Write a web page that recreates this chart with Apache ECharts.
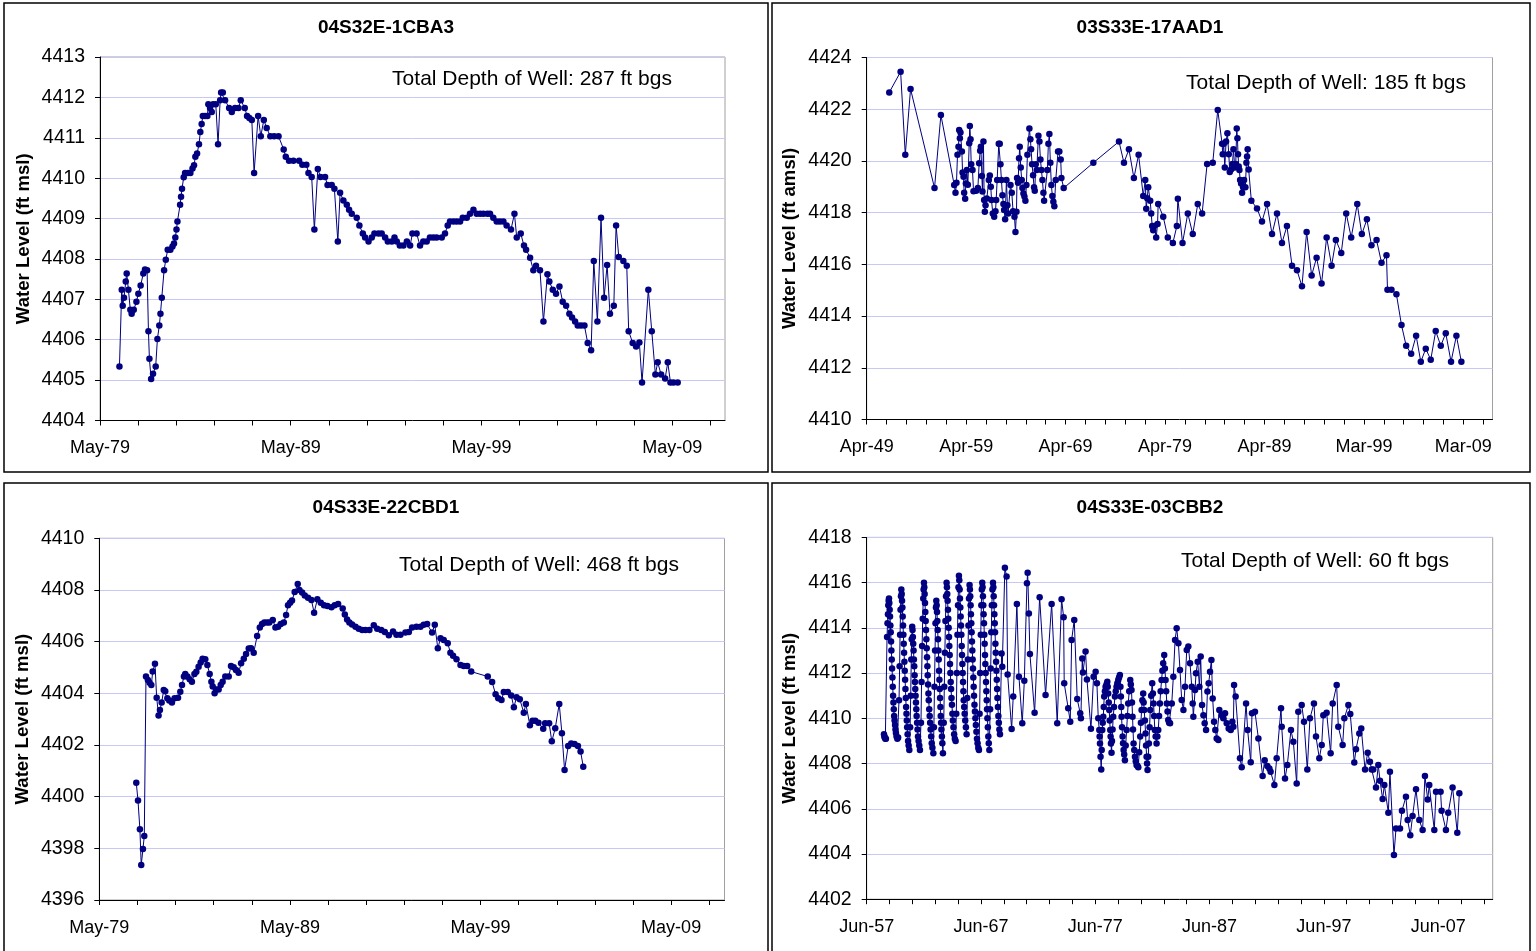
<!DOCTYPE html>
<html><head><meta charset="utf-8">
<script src="https://cdn.jsdelivr.net/npm/echarts@6/dist/echarts.min.js"></script>
<style>html,body{margin:0;padding:0;background:#fff}#c{width:1536px;height:951px}</style>
</head><body><div id="c"></div>
<script>
// ---------- DATA ----------
const wellIds = ['04S32E-1CBA3', '03S33E-17AAD1', '04S33E-22CBD1', '04S33E-03CBB2'];
const wellNotes = ['Total Depth of Well: 287 ft bgs', 'Total Depth of Well: 185 ft bgs', 'Total Depth of Well: 468 ft bgs', 'Total Depth of Well: 60 ft bgs'];
const yNames = ['Water Level (ft msl)', 'Water Level (ft amsl)', 'Water Level (ft msl)', 'Water Level (ft msl)'];

const p1XLabels = ['May-79', 'May-89', 'May-99', 'May-09'];
const p2XLabels = ['Apr-49', 'Apr-59', 'Apr-69', 'Apr-79', 'Apr-89', 'Mar-99', 'Mar-09'];
const p3XLabels = ['May-79', 'May-89', 'May-99', 'May-09'];
const p4XLabels = ['Jun-57', 'Jun-67', 'Jun-77', 'Jun-87', 'Jun-97', 'Jun-07'];

const p1YTicks = [4404, 4413, 1];
const p2YTicks = [4410, 4424, 2];
const p3YTicks = [4396, 4410, 2];
const p4YTicks = [4402, 4418, 2];

// decimal years
const p1Dates = [1980.39,1980.51,1980.56,1980.63,1980.72,1980.77,1980.86,1980.96,1981.03,1981.14,1981.28,1981.38,1981.5,1981.64,1981.73,1981.84,1981.91,1981.96,1982.05,1982.15,1982.29,1982.38,1982.48,1982.54,1982.61,1982.73,1982.82,1982.92,1983.06,1983.17,1983.25,1983.32,1983.38,1983.43,1983.57,1983.62,1983.67,1983.76,1983.83,1983.97,1984.11,1984.22,1984.3,1984.37,1984.46,1984.56,1984.63,1984.7,1984.76,1984.88,1985.0,1985.05,1985.14,1985.23,1985.3,1985.44,1985.56,1985.67,1985.72,1985.81,1985.93,1986.14,1986.28,1986.45,1986.63,1986.75,1986.96,1987.08,1987.2,1987.33,1987.45,1987.66,1987.8,1987.96,1988.11,1988.3,1988.5,1988.73,1989.0,1989.11,1989.28,1989.51,1989.81,1989.98,1990.19,1990.3,1990.47,1990.61,1990.79,1990.93,1991.17,1991.3,1991.52,1991.66,1991.84,1991.96,1992.13,1992.31,1992.43,1992.57,1992.83,1992.97,1993.15,1993.27,1993.45,1993.62,1993.76,1993.97,1994.14,1994.32,1994.46,1994.67,1994.81,1994.93,1995.09,1995.28,1995.46,1995.63,1995.75,
1995.97,1996.15,1996.32,1996.5,1996.67,1996.85,1997.02,1997.29,1997.46,1997.6,1997.72,1997.9,1998.07,1998.25,1998.39,1998.6,1998.77,1998.95,1999.12,1999.3,1999.47,1999.68,1999.82,1999.99,2000.17,2000.34,2000.52,2000.69,2000.92,2001.1,2001.22,2001.43,2001.6,2001.71,2001.92,2002.09,2002.23,2002.44,2002.62,2002.83,2002.93,2003.11,2003.28,2003.46,2003.63,2003.81,2003.98,2004.12,2004.28,2004.42,2004.59,2004.77,2004.94,2005.12,2005.26,2005.45,2005.64,2005.8,2005.96,2006.11,2006.31,2006.43,2006.57,2006.81,2006.99,2007.09,2007.3,2007.48,2007.65,2007.79,2008.12,2008.3,2008.49,2008.61,2008.79,2009.0,2009.14,2009.28,2009.44,2009.66];
const p1Levels = [4405.34,4407.24,4406.84,4407.04,4407.44,4407.64,4407.24,4406.74,4406.64,4406.74,4406.94,4407.14,4407.34,4407.64,4407.74,4407.72,4406.21,4405.53,4405.03,4405.16,4405.34,4406.02,4406.35,4406.64,4407.04,4407.72,4407.98,4408.23,4408.23,4408.31,4408.38,4408.53,4408.73,4408.93,4409.34,4409.54,4409.74,4410.02,4410.13,4410.13,4410.13,4410.24,4410.32,4410.53,4410.61,4410.84,4411.14,4411.34,4411.54,4411.54,4411.54,4411.83,4411.74,4411.64,4411.83,4411.83,4410.84,4411.93,4412.12,4412.12,4411.93,4411.74,4411.64,4411.74,4411.74,4411.93,4411.74,4411.54,4411.49,4411.44,4410.13,4411.54,4411.04,4411.44,4411.24,4411.04,4411.04,4411.04,4410.71,4410.53,4410.43,4410.43,4410.43,4410.33,4410.33,4410.13,4410.03,4408.73,4410.23,4410.03,4410.03,4409.83,4409.83,4409.74,4408.43,4409.64,4409.45,4409.34,4409.22,4409.12,4409.02,4408.83,4408.63,4408.53,4408.43,4408.53,4408.63,4408.63,4408.63,4408.53,4408.43,4408.43,4408.53,4408.43,4408.33,4408.33,4408.43,4408.33,4408.63,
4408.63,4408.33,4408.43,4408.43,4408.53,4408.53,4408.53,4408.53,4408.63,4408.83,4408.93,4408.93,4408.93,4408.93,4409.02,4409.02,4409.12,4409.22,4409.12,4409.12,4409.12,4409.12,4409.12,4409.02,4408.93,4408.93,4408.93,4408.83,4408.73,4409.12,4408.53,4408.63,4408.33,4408.23,4408.03,4407.72,4407.83,4407.72,4406.45,4407.62,4407.44,4407.24,4407.14,4407.32,4406.94,4406.84,4406.64,4406.55,4406.45,4406.35,4406.35,4406.35,4405.92,4405.74,4407.95,4406.45,4409.02,4407.04,4407.85,4406.64,4406.84,4408.83,4408.05,4407.95,4407.83,4406.21,4405.92,4405.83,4405.93,4404.94,4407.24,4406.21,4405.14,4405.44,4405.14,4405.04,4405.44,4404.94,4404.94,4404.94];

const p2Dates = [1951.52,1952.66,1953.13,1953.66,1956.07,1956.71,1958.05,1958.18,1958.28,1958.38,1958.48,1958.55,1958.62,1958.68,1958.82,1958.89,1958.99,1959.05,1959.15,1959.22,1959.32,1959.42,1959.56,1959.62,1959.69,1959.76,1959.89,1959.99,1960.26,1960.43,1960.56,1960.66,1960.73,1960.83,1960.89,1960.99,1961.06,1961.13,1961.2,1961.33,1961.53,1961.63,1961.73,1961.8,1961.93,1962.07,1962.2,1962.27,1962.37,1962.53,1962.63,1962.7,1962.8,1962.9,1963.0,1963.07,1963.17,1963.3,1963.4,1963.47,1963.71,1963.84,1963.97,1964.11,1964.21,1964.31,1964.37,1964.47,1964.57,1964.64,1964.74,1964.84,1964.91,1965.01,1965.11,1965.21,1965.31,1965.41,1965.61,1965.71,1965.78,1965.88,1965.98,1966.08,1966.15,1966.25,1966.35,1966.52,1966.62,1966.72,1966.82,1966.92,1967.02,1967.09,1967.42,1967.52,1967.62,1967.72,1967.82,1967.92,1968.02,1968.12,1968.26,1968.49,1968.62,1968.76,1968.83,1969.06,1972.04,1974.62,1975.12,1975.62,1976.12,1976.59,1977.06,1977.26,1977.36,1977.46,1977.56,1977.76,1977.86,1977.96,1978.06,1978.16,1978.36,1978.5,1978.56,1979.07,1979.53,1980.04,1980.44,1980.54,1981.01,
1981.54,1982.04,1982.54,1982.98,1983.48,1984.05,1984.55,1984.99,1985.05,1985.15,1985.26,1985.39,1985.52,1985.66,1985.76,1985.89,1986.03,1986.13,1986.26,1986.36,1986.46,1986.53,1986.59,1986.66,1986.73,1986.8,1986.9,1987.0,1987.1,1987.2,1987.33,1987.43,1987.5,1987.56,1987.66,1987.93,1988.5,1989.0,1989.51,1990.01,1990.51,1991.01,1991.51,1992.02,1992.52,1993.02,1993.49,1993.99,1994.49,1994.99,1995.5,1996.0,1996.43,1996.97,1997.47,1997.97,1998.58,1999.04,1999.55,2000.01,2000.52,2001.02,2001.52,2001.62,2002.02,2002.52,2003.03,2003.5,2004.0,2004.5,2004.97,2005.47,2005.97,2006.47,2006.98,2007.48,2008.01,2008.55,2009.05];
const p2Levels = [4422.65,4423.45,4420.24,4422.78,4418.95,4421.78,4419.07,4418.77,4419.16,4420.24,4420.55,4421.2,4420.88,4421.1,4420.36,4419.55,4419.39,4418.77,4418.54,4419.13,4419.65,4419.08,4420.68,4421.35,4420.84,4419.87,4419.65,4418.83,4418.85,4418.95,4419.91,4420.39,4420.55,4419.42,4418.82,4420.75,4418.49,4418.03,4418.29,4418.55,4419.26,4419.44,4419.0,4418.49,4417.97,4417.84,4418.05,4418.49,4419.26,4420.66,4420.66,4419.87,4419.26,4418.67,4418.33,4418.1,4417.74,4419.26,4418.29,4417.97,4419.07,4418.77,4418.05,4417.84,4417.25,4418.03,4419.34,4419.16,4420.1,4420.55,4419.75,4419.26,4418.95,4418.74,4418.62,4418.46,4419.07,4420.24,4421.25,4420.84,4420.45,4419.87,4419.45,4418.98,4418.85,4419.87,4419.65,4420.97,4420.75,4420.06,4419.65,4419.26,4418.77,4418.46,4419.65,4420.66,4421.04,4419.93,4419.07,4418.64,4418.42,4418.25,4419.26,4420.36,4420.36,4420.06,4419.34,4418.95,4419.93,4420.75,4419.93,4420.45,4419.34,4420.24,4418.64,4419.26,4418.15,4418.56,4418.98,4418.46,4417.97,4417.48,4417.32,4417.48,4417.04,4417.56,4418.33,4417.84,4417.04,4416.83,4417.48,4418.54,4416.83,
4417.97,4417.17,4418.33,4417.97,4419.88,4419.93,4421.97,4420.66,4420.26,4420.66,4419.75,4420.75,4421.07,4420.26,4419.57,4419.67,4419.88,4420.45,4419.75,4419.88,4421.25,4420.88,4420.26,4419.78,4419.65,4419.26,4419.13,4418.77,4418.98,4419.26,4418.98,4419.93,4420.17,4420.45,4419.67,4418.46,4418.16,4417.66,4418.33,4417.17,4417.97,4416.83,4417.48,4415.95,4415.77,4415.15,4417.25,4415.57,4416.26,4415.26,4417.04,4415.95,4416.94,4416.44,4417.97,4417.04,4418.33,4417.17,4417.74,4416.74,4416.94,4416.06,4416.35,4415.02,4415.02,4414.84,4413.65,4412.85,4412.54,4413.24,4412.23,4412.74,4412.31,4413.42,4412.85,4413.34,4412.23,4413.24,4412.23];

const p3Dates = [1981.31,1981.4,1981.5,1981.57,1981.66,1981.73,1981.82,1981.92,1982.01,1982.1,1982.17,1982.29,1982.38,1982.48,1982.55,1982.64,1982.75,1982.83,1982.94,1983.04,1983.18,1983.32,1983.5,1983.62,1983.71,1983.81,1983.88,1983.99,1984.11,1984.23,1984.36,1984.46,1984.58,1984.69,1984.79,1984.93,1985.04,1985.16,1985.25,1985.32,1985.42,1985.51,1985.63,1985.74,1985.84,1985.98,1986.16,1986.28,1986.42,1986.54,1986.68,1986.81,1986.95,1987.07,1987.21,1987.33,1987.47,1987.65,1987.79,1987.91,1988.03,1988.17,1988.29,1988.47,1988.61,1988.75,1988.89,1989.05,1989.17,1989.27,1989.38,1989.48,1989.62,1989.78,1989.87,1990.01,1990.15,1990.32,1990.5,1990.64,1990.81,1990.99,1991.16,1991.34,1991.55,1991.72,1991.9,1992.14,1992.25,1992.37,1992.49,1992.63,1992.81,1992.98,1993.16,1993.33,1993.54,1993.77,1993.95,1994.16,1994.35,1994.56,1994.78,1994.96,1995.17,1995.43,1995.61,1995.78,
1996.01,1996.22,1996.39,1996.57,1996.83,1996.97,1997.13,1997.27,1997.44,1997.65,1997.79,1997.93,1998.11,1998.32,1998.49,1998.67,1998.88,1999.75,1999.98,2000.16,2000.3,2000.47,2000.59,2000.8,2000.98,2001.12,2001.26,2001.43,2001.64,2001.75,2001.96,2002.1,2002.24,2002.41,2002.66,2002.76,2002.97,2003.11,2003.29,2003.5,2003.64,2003.78,2003.97,2004.13,2004.3,2004.48,2004.62,2004.76];
const p3Levels = [4400.54,4399.85,4398.74,4397.35,4397.97,4398.48,4404.65,4404.52,4404.41,4404.32,4404.84,4405.14,4403.83,4403.14,4403.35,4403.64,4404.13,4404.08,4403.81,4403.72,4403.64,4403.81,4403.83,4404.06,4404.32,4404.65,4404.75,4404.65,4404.54,4404.45,4404.75,4404.83,4405.03,4405.19,4405.34,4405.32,4405.1,4404.75,4404.45,4404.26,4404.0,4404.15,4404.15,4404.32,4404.45,4404.65,4404.65,4405.06,4405.01,4404.9,4404.8,4405.16,4405.34,4405.52,4405.73,4405.74,4405.57,4406.22,4406.55,4406.68,4406.74,4406.74,4406.74,4406.84,4406.55,4406.58,4406.68,4406.74,4407.03,4407.41,4407.51,4407.59,4407.92,4408.23,4408.0,4407.9,4407.79,4407.7,4407.61,4407.12,4407.64,4407.51,4407.41,4407.38,4407.33,4407.41,4407.46,4407.28,4407.05,4406.86,4406.74,4406.66,4406.58,4406.5,4406.45,4406.45,4406.45,4406.63,4406.5,4406.45,4406.37,4406.25,4406.39,4406.27,4406.27,4406.35,4406.37,4406.55,
4406.58,4406.58,4406.65,4406.68,4406.35,4406.65,4405.74,4406.13,4406.06,4405.94,4405.57,4405.45,4405.32,4405.1,4405.06,4405.06,4404.84,4404.65,4404.44,4403.96,4403.81,4403.74,4404.05,4404.05,4403.92,4403.46,4403.85,4403.77,4403.25,4403.59,4402.76,4402.94,4402.94,4402.86,4402.63,4402.84,4402.84,4402.14,4402.65,4403.59,4402.45,4401.03,4401.96,4402.06,4402.04,4401.96,4401.75,4401.16];

const p4Dates = [
1958.93,1958.97,1959.0,1959.05,1959.1,1959.2,1959.24,1959.28,1959.31,1959.34,1959.37,1959.4,1959.43,1959.46,1959.49,1959.52,1959.55,1959.58,1959.61,1959.64,1959.67,1959.7,1959.73,1959.76,1959.79,1959.82,1959.86,1959.9,1959.94,1959.98,1960.03,1960.1,1960.17,
1960.25,1960.3,1960.34,1960.38,1960.42,1960.45,1960.48,1960.51,1960.54,1960.57,1960.6,1960.63,1960.66,1960.69,1960.72,1960.75,1960.78,1960.81,1960.84,1960.87,1960.9,1960.93,1960.96,1961.0,1961.04,1961.09,1961.15,
1961.22,1961.27,1961.32,1961.36,1961.4,1961.43,1961.46,1961.49,1961.52,1961.55,1961.58,1961.61,1961.64,1961.67,1961.7,1961.73,1961.76,1961.79,1961.83,1961.87,1961.91,1961.96,1962.02,1962.08,
1962.17,1962.22,1962.27,1962.32,1962.37,1962.4,1962.43,1962.46,1962.49,1962.52,1962.55,1962.58,1962.61,1962.64,1962.67,1962.7,1962.73,1962.76,1962.79,1962.82,1962.85,1962.89,1962.93,1962.97,1963.01,1963.06,1963.11,1963.17,1963.25,
1963.3,1963.35,1963.4,1963.44,1963.48,1963.51,1963.54,1963.57,1963.6,1963.63,1963.66,1963.69,1963.72,1963.75,1963.78,1963.81,1963.84,1963.87,1963.9,1963.93,1963.96,1964.0,1964.04,1964.09,
1964.16,1964.21,1964.26,1964.31,1964.36,1964.41,1964.44,1964.47,1964.5,1964.53,1964.56,1964.59,1964.62,1964.65,1964.68,1964.71,1964.74,1964.77,1964.8,1964.84,1964.88,1964.92,1964.96,1965.01,1965.07,1965.13,1965.2,
1965.26,1965.31,1965.36,1965.41,1965.45,1965.49,1965.52,1965.55,1965.58,1965.61,1965.64,1965.67,1965.7,1965.73,1965.76,1965.79,1965.82,1965.85,1965.88,1965.91,1965.95,1965.99,1966.04,1966.1,1966.16,
1966.22,1966.27,1966.32,1966.37,1966.42,1966.45,1966.48,1966.51,1966.54,1966.57,1966.6,1966.63,1966.66,1966.69,1966.72,1966.75,1966.78,1966.81,1966.85,1966.89,1966.93,1966.97,1967.02,1967.07,1967.12,1967.18,1967.24,
1967.3,1967.35,1967.4,1967.45,1967.49,1967.53,1967.56,1967.59,1967.62,1967.65,1967.68,1967.71,1967.74,1967.77,1967.8,1967.83,1967.86,1967.89,1967.92,1967.95,1967.98,1968.02,1968.06,1968.1,1968.15,
1968.22,1968.27,1968.32,1968.37,1968.42,1968.47,1968.5,1968.53,1968.56,1968.59,1968.62,1968.65,1968.68,1968.71,1968.74,1968.77,1968.8,1968.83,1968.86,1968.9,1968.94,1968.98,1969.03,1969.08,
1969.22,1969.28,1969.51,1969.66,1969.75,1970.1,1970.24,1970.56,1970.74,1971.03,1971.21,1971.44,1971.5,1971.61,1971.7,1972.11,1972.55,1973.07,1973.6,1974.09,1974.47,1974.65,1974.7,1975.05,1975.23,1975.35,1975.58,1975.84,1976.1,1976.16,1976.28,1976.34,1976.57,1976.69,1977.04,1977.27,1977.45,1977.56,1977.68,
1977.77,1977.8,1977.83,1977.88,1977.94,1977.98,1978.03,1978.07,1978.12,1978.16,1978.2,1978.26,1978.32,1978.4,1978.47,1978.51,1978.55,1978.6,1978.64,1978.68,1978.73,1978.76,1978.79,1978.84,1978.88,1978.93,1978.99,1979.06,1979.14,1979.21,1979.28,1979.35,1979.43,1979.5,1979.57,1979.62,1979.66,1979.69,1979.72,1979.76,1979.81,1979.85,1979.9,1979.95,1980.01,1980.08,1980.16,1980.23,1980.3,1980.39,1980.48,1980.53,1980.59,1980.63,1980.68,1980.72,1980.77,1980.83,1980.89,1980.96,1981.03,1981.1,1981.18,1981.26,1981.35,1981.41,1981.47,1981.54,1981.61,1981.65,1981.7,1981.76,1981.82,1981.86,1981.91,1981.95,1981.99,1982.05,1982.11,1982.17,1982.23,1982.31,1982.4,1982.46,1982.52,1982.57,1982.63,1982.7,1982.78,1982.85,1982.93,1983.0,1983.07,1983.14,1983.22,1983.29,1983.36,1983.45,1983.51,1983.57,1983.62,1983.68,1983.74,1983.8,1983.88,
1983.96,1984.11,1984.25,1984.4,1984.54,1984.69,1984.83,1984.98,1985.13,1985.27,1985.42,1985.56,1985.71,1985.86,1985.94,1986.0,1986.15,1986.23,1986.38,1986.53,1986.64,1986.76,1986.88,1986.99,1987.11,1987.23,1987.34,1987.46,1987.58,1987.69,1987.81,1987.92,1988.04,1988.19,1988.27,1988.48,1988.62,1988.77,1988.92,1989.09,1989.27,1989.41,1989.5,1989.56,1989.7,1990.08,1990.23,1990.61,1990.75,1991.02,1991.13,1991.39,1991.69,1992.06,1992.24,1992.47,1992.65,1992.76,1993.09,1993.29,1993.67,1993.73,1994.02,1994.22,1994.54,1994.75,1995.04,1995.18,1995.48,1995.68,1995.97,1996.2,1996.55,1996.73,1997.02,1997.23,1997.37,1997.66,1998.01,1998.19,1998.54,1998.68,1999.06,1999.21,1999.56,1999.73,2000.08,2000.23,2000.52,2000.69,2001.02,2001.25,2001.45,2001.6,2001.74,2001.98,2002.18,2002.33,2002.56,2002.71,2003.06,2003.2,2003.55,2003.73,2004.08,2004.25,2004.6,2004.75,2004.98,2005.18,2005.48,2005.77,2006.06,2006.26,2006.5,2006.64,2007.08,2007.23,2007.63,2007.72,2008.1,2008.3,2008.68,2009.09,2009.27];
const p4Levels = [
4409.3,4409.2,4409.15,4409.1,4409.1,4413.6,4414.2,4414.6,4415.0,4415.2,4415.3,4415.1,4414.8,4414.5,4414.1,4413.8,4413.4,4413.0,4412.6,4412.2,4411.8,4411.4,4411.0,4410.7,4410.4,4410.1,4409.9,4409.7,4409.5,4409.35,4409.2,4409.1,4409.15,
4410.8,4412.3,4413.7,4414.8,4415.4,4415.7,4415.5,4415.2,4414.9,4414.5,4414.1,4413.7,4413.3,4412.9,4412.5,4412.1,4411.7,4411.3,4410.9,4410.5,4410.2,4409.9,4409.6,4409.3,4409.0,4408.8,4408.6,
4409.6,4411.0,4412.6,4413.5,4414.05,4413.9,4413.6,4413.3,4413.0,4412.6,4412.3,4411.9,4411.6,4411.3,4411.0,4410.7,4410.4,4410.1,4409.8,4409.5,4409.2,4409.0,4408.8,4408.6,
4409.8,4411.6,4413.2,4414.4,4415.3,4415.7,4416.0,4415.8,4415.5,4415.1,4414.7,4414.3,4413.9,4413.5,4413.1,4412.7,4412.3,4411.9,4411.5,4411.1,4410.8,4410.4,4410.1,4409.8,4409.5,4409.2,4408.9,4408.7,4408.45,
4409.6,4411.4,4413.0,4414.2,4414.9,4415.2,4415.0,4414.7,4414.3,4413.9,4413.5,4413.0,4412.6,4412.1,4411.7,4411.3,4410.9,4410.5,4410.1,4409.8,4409.5,4409.2,4408.9,4408.45,
4409.8,4411.4,4412.9,4414.3,4415.4,4416.0,4415.8,4415.5,4415.2,4414.8,4414.4,4414.0,4413.6,4413.2,4412.8,4412.4,4412.0,4411.6,4411.3,4410.9,4410.6,4410.2,4409.9,4409.6,4409.3,4409.1,4409.0,
4410.2,4412.0,4413.7,4415.0,4415.8,4416.3,4416.1,4415.7,4415.3,4414.9,4414.5,4414.1,4413.7,4413.2,4412.8,4412.4,4412.0,4411.6,4411.2,4410.8,4410.5,4410.2,4409.9,4409.6,4409.3,
4410.9,4412.6,4414.1,4415.3,4415.9,4415.7,4415.4,4415.0,4414.6,4414.2,4413.8,4413.4,4413.0,4412.6,4412.2,4411.8,4411.4,4411.0,4410.6,4410.3,4410.0,4409.7,4409.4,4409.1,4408.9,4408.7,4408.6,
4410.2,4412.0,4413.7,4415.0,4415.7,4416.0,4415.8,4415.4,4415.0,4414.6,4414.2,4413.7,4413.3,4412.8,4412.4,4412.0,4411.6,4411.2,4410.8,4410.4,4410.0,4409.6,4409.2,4408.9,4408.6,
4410.4,4412.2,4413.8,4415.0,4415.7,4416.0,4415.8,4415.4,4415.0,4414.6,4414.2,4413.8,4413.3,4412.9,4412.5,4412.1,4411.7,4411.3,4410.9,4410.5,4410.1,4409.8,4409.5,4409.3,
4412.87,4412.28,4416.66,4416.27,4411.94,4409.53,4410.96,4415.06,4411.84,4409.78,4411.66,4415.97,4416.44,4414.64,4412.84,4410.25,4415.35,4411.03,4415.06,4409.78,4415.26,4414.47,4411.55,4410.44,4409.85,4413.46,4414.35,4410.85,4410.22,4410.0,4412.65,4412.02,4412.95,4411.72,4409.54,4411.84,4412.06,4411.55,4410.0,
4409.48,4409.2,4408.89,4408.3,4407.74,4408.6,4409.48,4409.8,4410.07,4410.5,4410.96,4411.2,4411.4,4411.5,4411.62,4411.4,4411.1,4410.7,4410.37,4409.9,4409.48,4409.2,4408.89,4408.48,4409.0,4409.5,4410.07,4410.5,4410.96,4411.2,4411.4,4411.55,4411.69,4411.8,4411.91,4411.4,4410.96,4410.5,4410.07,4409.6,4409.19,4408.9,4408.6,4408.4,4408.15,4408.8,4409.48,4410.1,4410.66,4411.2,4411.69,4411.5,4411.25,4410.7,4410.07,4409.5,4408.89,4408.6,4408.3,4408.1,4407.93,4407.9,4407.83,4408.5,4409.19,4409.8,4410.37,4410.8,4411.1,4410.7,4410.37,4409.9,4409.33,4408.8,4408.3,4408.0,4407.71,4408.3,4408.89,4409.6,4410.37,4411.0,4411.55,4411.1,4410.66,4410.1,4409.48,4409.2,4408.89,4409.2,4409.48,4410.1,4410.66,4411.2,4411.69,4412.1,4412.43,4412.8,4412.2,4411.69,4411.2,4410.66,4410.3,4409.92,4409.8,
4409.78,4410.66,4411.84,4413.46,4413.98,4413.32,4412.14,4410.81,4410.37,4411.4,4413.02,4413.17,4412.43,4411.4,4410.66,4410.07,4411.25,4411.99,4412.5,4411.4,4412.73,4410.59,4410.14,4409.78,4409.48,4411.18,4411.55,4412.06,4412.58,4410.88,4409.85,4409.48,4409.11,4409.04,4410.37,4410.14,4410.0,4410.22,4409.78,4409.55,4409.48,4409.85,4409.63,4411.47,4410.96,4408.23,4407.83,4410.66,4409.48,4408.06,4410.22,4410.29,4409.11,4407.45,4408.15,4407.89,4407.78,4407.64,4407.05,4408.23,4410.44,4409.63,4407.34,4407.93,4409.48,4408.96,4407.12,4410.29,4410.59,4409.85,4407.74,4410.0,4410.66,4409.19,4408.23,4408.82,4410.14,4410.25,4408.45,4410.66,4411.47,4409.63,4408.82,4410.0,4410.59,4410.19,4408.04,4408.63,4409.33,4409.55,4407.74,4408.48,4408.08,4407.74,4407.74,4406.94,4407.93,4407.24,4406.43,4407.05,4405.82,4407.64,4403.95,4405.13,4405.13,4405.91,4406.53,4405.5,4404.83,4405.68,4406.86,4405.5,4405.06,4407.45,4406.41,4407.05,4405.06,4406.75,4406.75,4405.91,4405.06,4405.82,4406.94,4404.94,4406.68];

// ---------- LAYOUT / STYLE ----------
const FONT = "'Liberation Sans', Arial, Helvetica, sans-serif";
const NAVY = '#000080';
const panels = [
  {dates:p1Dates, levels:p1Levels, xLabels:p1XLabels, yTicks:p1YTicks, origin:1979.37, span:32.77,
   grid:{left:100, top:57, width:625, height:363.5}, titleXY:[386,28], noteXY:[532,79]},
  {dates:p2Dates, levels:p2Levels, xLabels:p2XLabels, yTicks:p2YTicks, origin:1949.25, span:62.93,
   grid:{left:866.7, top:57.5, width:625.8, height:362}, titleXY:[1150,28], noteXY:[1326,83]},
  {dates:p3Dates, levels:p3Levels, xLabels:p3XLabels, yTicks:p3YTicks, origin:1979.37, span:32.8,
   grid:{left:99.3, top:538.3, width:625.2, height:361.7}, titleXY:[386,508], noteXY:[539,565]},
  {dates:p4Dates, levels:p4Levels, xLabels:p4XLabels, yTicks:p4YTicks, origin:1957.42, span:54.77,
   grid:{left:866.7, top:537.4, width:626, height:361.8}, titleXY:[1150,508], noteXY:[1315,561]}
];

const grids = [], xAxes = [], yAxes = [], series = [], graphics = [];
[[4,3,764,469],[772,3,758,469],[4,483,764,472],[772,483,758,472]].forEach(r => {
  graphics.push({type:'rect', shape:{x:r[0], y:r[1], width:r[2], height:r[3]},
    style:{fill:'none', stroke:'#000', lineWidth:1.5}, silent:true});
});

panels.forEach((p, i) => {
  grids.push(Object.assign({show:true, borderColor:'#a0a0a0', borderWidth:1, backgroundColor:'#fff', containLabel:false}, p.grid));
  const tickVals = []; for (let v = 0; v <= p.span + 1e-9; v += 2) tickVals.push(v);
  const labVals = p.xLabels.map((_, k) => k * 10);
  xAxes.push({type:'value', gridIndex:i, min:0, max:p.span,
    axisLine:{show:true, onZero:false, lineStyle:{color:'#000', width:1}},
    axisTick:{show:true, length:5, customValues:tickVals, lineStyle:{color:'#000'}},
    axisLabel:{customValues:labVals, formatter: v => p.xLabels[Math.round(v/10)] || '',
      fontSize:18, color:'#000', margin:19, fontFamily:FONT, showMinLabel:true},
    splitLine:{show:false}});
  const [yMin, yMax, yStep] = p.yTicks;
  yAxes.push({type:'value', gridIndex:i, min:yMin, max:yMax, interval:yStep,
    axisLine:{show:true, lineStyle:{color:'#000', width:1}},
    axisTick:{show:true, length:5, lineStyle:{color:'#000'}},
    axisLabel:{fontSize:19.5, color:'#000', margin:15, fontFamily:FONT, formatter: v => String(v)},
    splitLine:{show:true, lineStyle:{color:'#c8c8f6', width:1}},
    name:yNames[i], nameLocation:'middle', nameGap:67, nameRotate:90,
    nameTextStyle:{fontWeight:'bold', fontSize:18.6, color:'#000', fontFamily:FONT}});
  series.push({type:'line', xAxisIndex:i, yAxisIndex:i,
    data:p.dates.map((d, k) => [d - p.origin, p.levels[k]]),
    symbol:'circle', symbolSize:6.5, showSymbol:true, showAllSymbol:true,
    lineStyle:{color:NAVY, width:1}, itemStyle:{color:NAVY}, animation:false, silent:true});
  graphics.push({type:'text', x:p.titleXY[0], y:p.titleXY[1], silent:true,
    style:{text:wellIds[i], font:'bold 19px ' + FONT, fill:'#000', textAlign:'center', textVerticalAlign:'middle'}});
  graphics.push({type:'text', x:p.noteXY[0], y:p.noteXY[1], silent:true, z:100,
    style:{text:wellNotes[i], font:'21px ' + FONT, fill:'#000', textAlign:'center', textVerticalAlign:'middle'}});
});

const chart = echarts.init(document.getElementById('c'), null, {renderer:'canvas'});
chart.setOption({backgroundColor:'#fff', animation:false, grid:grids, xAxis:xAxes, yAxis:yAxes, series:series, graphic:graphics});
</script></body></html>
